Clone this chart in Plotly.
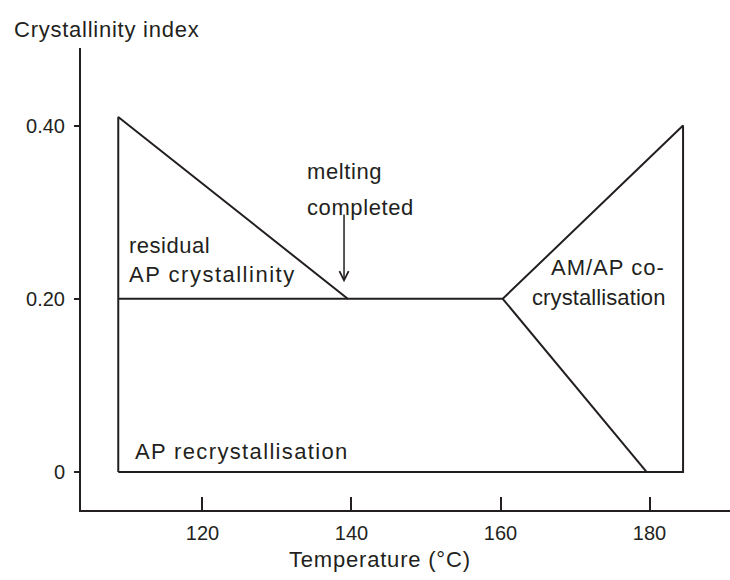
import plotly.graph_objects as go

# Temperatures (°C) at the corners of the crystallinity schematic
t_start = 108.7        # start of heating window
t_melt = 139.5         # melting completed
t_cocryst = 160.3      # onset of AM/AP co-crystallisation
t_recryst_end = 179.6  # AP recrystallisation boundary reaches zero
t_end = 184.5          # end of heating window

# Crystallinity index levels
ci_start = 0.41
ci_plateau = 0.20
ci_end = 0.40
ci_base = 0.0

# Axis ticks
x_ticks = [120, 140, 160, 180]
y_ticks = [0, 0.2, 0.4]
y_tick_text = ["0", "0.20", "0.40"]

INK = "#231f20"
FONT = "Liberation Sans, Arial, sans-serif"

fig = go.Figure()

# outer boundary, plateau line from the left edge, and the recrystallisation edge
xs = [t_start, t_start, t_melt, t_cocryst, t_end, t_end, t_start, None,
      t_start, t_melt, None,
      t_cocryst, t_recryst_end]
ys = [ci_base, ci_start, ci_plateau, ci_plateau, ci_end, ci_base, ci_base, None,
      ci_plateau, ci_plateau, None,
      ci_plateau, ci_base]
fig.add_trace(go.Scatter(x=xs, y=ys, mode="lines",
                         line=dict(color=INK, width=2),
                         hoverinfo="skip", showlegend=False))


def spaced(text, ls):
    return f'<span style="letter-spacing:{ls}px">{text}</span>'


# region labels: (text, x, y, anchor, letter spacing)
labels = [
    ("melting", 133.7, 0.347, "left", 0.6),
    ("completed", 133.7, 0.305, "left", 0.6),
    ("residual", 109.9, 0.262, "left", 0.5),
    ("AP crystallinity", 109.9, 0.2275, "left", 1.5),
    ("AM/AP co-", 182.4, 0.2367, "right", 1.0),
    ("crystallisation", 182.5, 0.202, "right", 0.1),
    ("AP recrystallisation", 110.7, 0.0242, "left", 1.35),
]
for text, x, y, anchor, ls in labels:
    fig.add_annotation(x=x, y=y, xref="x", yref="y", text=spaced(text, ls),
                       showarrow=False, xanchor=anchor, yanchor="middle",
                       font=dict(family=FONT, size=22, color=INK))

# arrow marking the end of melting
fig.add_annotation(x=139.0, y=0.219, ax=139.0, ay=0.299, xref="x", yref="y",
                   axref="x", ayref="y", text="", showarrow=True,
                   arrowhead=5, arrowsize=1.2, arrowwidth=1.5, arrowcolor=INK)

# axis titles
fig.add_annotation(x=143.8, y=-0.108, xref="x", yref="paper",
                   text=spaced("Temperature (°C)", 0.8), showarrow=False,
                   xanchor="center", yanchor="middle",
                   font=dict(family=FONT, size=22, color=INK))
fig.add_annotation(x=-0.1063, y=1.041, xref="paper", yref="paper",
                   text=spaced("Crystallinity index", 0.75), showarrow=False,
                   xanchor="left", yanchor="middle",
                   font=dict(family=FONT, size=22, color=INK))

fig.update_layout(
    width=730, height=580,
    margin=dict(l=81, r=0, t=48, b=70),
    plot_bgcolor="white", paper_bgcolor="white",
    showlegend=False,
    xaxis=dict(range=[103.7, 190.8], showline=True, linecolor=INK, linewidth=2,
               ticks="inside", ticklen=13, tickwidth=2, tickcolor=INK,
               tickvals=x_ticks, showgrid=False, zeroline=False,
               ticklabelstandoff=4,
               tickfont=dict(family=FONT, size=20, color=INK)),
    yaxis=dict(range=[-0.0439, 0.4896], showline=True, linecolor=INK, linewidth=2,
               ticks="outside", ticklen=5, tickwidth=2, tickcolor=INK,
               tickvals=y_ticks, ticktext=y_tick_text,
               showgrid=False, zeroline=False, ticklabelstandoff=5,
               tickfont=dict(family=FONT, size=20, color=INK)),
)

fig.write_html("out.html")
